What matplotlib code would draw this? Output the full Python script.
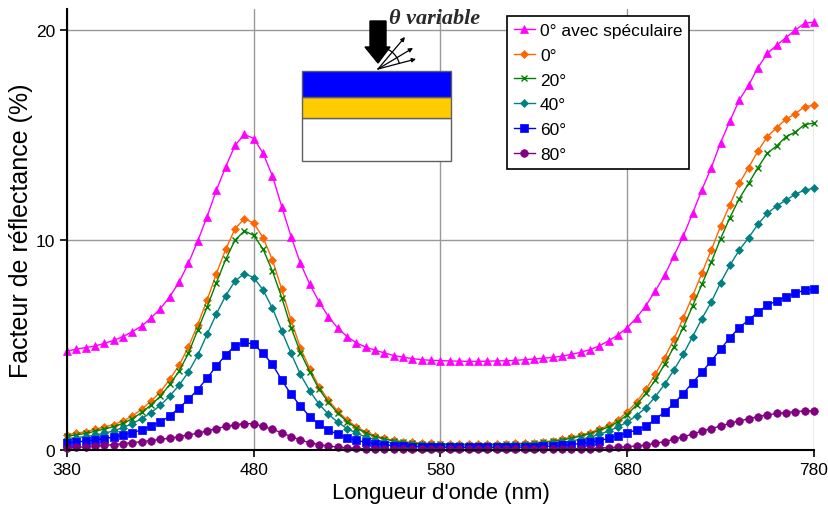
import numpy as np
import matplotlib
matplotlib.use('Agg')
import matplotlib.pyplot as plt
from matplotlib.patches import Rectangle, Polygon, FancyArrowPatch, Arc

plt.rcParams['font.family'] = ['Liberation Sans', 'DejaVu Sans']

# ==========================================
# Data (reflectance in %, every 5 nm)
# ==========================================
wavelength = np.arange(380, 785, 5)

spec_0 = [4.71, 4.80, 4.88, 4.95, 5.08, 5.22, 5.40, 5.64, 5.90, 6.29,
          6.73, 7.30, 7.99, 8.89, 9.95, 11.11, 12.37, 13.49, 14.51, 15.03,
          14.83, 14.13, 13.05, 11.59, 10.16, 8.89, 7.89, 7.05, 6.35, 5.80,
          5.40, 5.10, 4.90, 4.75, 4.62, 4.50, 4.42, 4.35, 4.30, 4.27,
          4.26, 4.24, 4.23, 4.22, 4.22, 4.23, 4.24, 4.25, 4.27, 4.30,
          4.33, 4.37, 4.41, 4.47, 4.55, 4.65, 4.78, 4.96, 5.20, 5.47,
          5.83, 6.30, 6.88, 7.57, 8.32, 9.24, 10.19, 11.27, 12.40, 13.45,
          14.64, 15.67, 16.67, 17.37, 18.21, 18.89, 19.27, 19.64, 20.00, 20.32,
          20.38]

r_0 = [0.72, 0.80, 0.87, 0.98, 1.10, 1.21, 1.38, 1.62, 1.94, 2.33,
       2.76, 3.37, 4.03, 4.90, 5.97, 7.14, 8.40, 9.56, 10.54, 11.02,
       10.80, 10.11, 9.05, 7.65, 6.18, 4.86, 3.87, 3.02, 2.37, 1.85,
       1.42, 1.10, 0.86, 0.68, 0.55, 0.46, 0.40, 0.36, 0.33, 0.31,
       0.30, 0.29, 0.28, 0.28, 0.28, 0.28, 0.29, 0.30, 0.31, 0.33,
       0.35, 0.39, 0.44, 0.52, 0.60, 0.70, 0.83, 0.99, 1.17, 1.43,
       1.82, 2.28, 2.89, 3.60, 4.40, 5.27, 6.30, 7.33, 8.43, 9.52,
       10.67, 11.69, 12.70, 13.45, 14.24, 14.92, 15.35, 15.75, 16.02, 16.35,
       16.41]

r_20 = [0.65, 0.72, 0.79, 0.89, 1.00, 1.11, 1.27, 1.49, 1.79, 2.15,
        2.56, 3.12, 3.75, 4.60, 5.72, 6.80, 7.97, 9.08, 10.00, 10.43,
        10.22, 9.56, 8.52, 7.26, 5.83, 4.64, 3.73, 2.90, 2.27, 1.76,
        1.35, 1.04, 0.81, 0.64, 0.52, 0.43, 0.37, 0.33, 0.30, 0.28,
        0.27, 0.26, 0.26, 0.25, 0.25, 0.25, 0.26, 0.27, 0.28, 0.30,
        0.32, 0.36, 0.41, 0.48, 0.56, 0.66, 0.78, 0.93, 1.10, 1.34,
        1.68, 2.15, 2.70, 3.33, 4.08, 4.92, 5.83, 6.86, 7.89, 8.95,
        10.07, 11.07, 11.97, 12.70, 13.45, 14.13, 14.48, 14.92, 15.14, 15.50,
        15.56]

r_40 = [0.54, 0.59, 0.64, 0.70, 0.80, 0.91, 1.07, 1.26, 1.49, 1.78,
        2.13, 2.57, 3.08, 3.71, 4.51, 5.51, 6.48, 7.35, 8.05, 8.40,
        8.21, 7.62, 6.75, 5.67, 4.60, 3.60, 2.81, 2.18, 1.70, 1.32,
        1.02, 0.80, 0.62, 0.49, 0.40, 0.33, 0.28, 0.25, 0.23, 0.21,
        0.20, 0.19, 0.19, 0.19, 0.19, 0.19, 0.19, 0.20, 0.21, 0.22,
        0.24, 0.27, 0.31, 0.36, 0.43, 0.51, 0.61, 0.74, 0.90, 1.10,
        1.33, 1.64, 2.02, 2.54, 3.13, 3.81, 4.56, 5.40, 6.26, 7.05,
        7.97, 8.80, 9.52, 10.11, 10.75, 11.27, 11.62, 11.90, 12.18, 12.38,
        12.46]

r_60 = [0.35, 0.38, 0.43, 0.48, 0.54, 0.62, 0.72, 0.83, 0.95, 1.14,
        1.33, 1.62, 2.00, 2.41, 2.88, 3.42, 4.00, 4.53, 4.97, 5.12,
        5.04, 4.60, 4.08, 3.33, 2.65, 2.10, 1.59, 1.22, 0.95, 0.74,
        0.58, 0.46, 0.37, 0.30, 0.25, 0.21, 0.18, 0.16, 0.15, 0.14,
        0.13, 0.13, 0.12, 0.12, 0.12, 0.12, 0.12, 0.13, 0.13, 0.14,
        0.15, 0.17, 0.19, 0.22, 0.26, 0.31, 0.37, 0.45, 0.55, 0.67,
        0.81, 0.96, 1.14, 1.46, 1.81, 2.22, 2.69, 3.21, 3.71, 4.24,
        4.80, 5.35, 5.83, 6.19, 6.57, 6.89, 7.10, 7.30, 7.46, 7.62,
        7.65]

r_80 = [0.11, 0.13, 0.15, 0.19, 0.22, 0.26, 0.30, 0.35, 0.40, 0.45,
        0.51, 0.56, 0.64, 0.72, 0.80, 0.91, 1.02, 1.12, 1.20, 1.26,
        1.25, 1.12, 0.99, 0.82, 0.64, 0.47, 0.35, 0.26, 0.19, 0.14,
        0.10, 0.08, 0.06, 0.05, 0.04, 0.04, 0.03, 0.03, 0.03, 0.03,
        0.03, 0.03, 0.03, 0.03, 0.03, 0.03, 0.03, 0.03, 0.03, 0.03,
        0.03, 0.04, 0.04, 0.05, 0.06, 0.07, 0.07, 0.09, 0.11, 0.13,
        0.16, 0.19, 0.24, 0.32, 0.40, 0.51, 0.64, 0.75, 0.91, 1.02,
        1.14, 1.27, 1.38, 1.49, 1.59, 1.67, 1.74, 1.78, 1.83, 1.86,
        1.87]

labels = ['0° avec spéculaire', '0°', '20°', '40°', '60°', '80°']
series = [spec_0, r_0, r_20, r_40, r_60, r_80]
colors = ['#FF00FF', '#FF6600', '#008000', '#008080', '#0000FF', '#800080']
markers = ['^', 'D', 'x', 'D', 's', 'o']
msizes = [6, 4.3, 5, 4.3, 6, 5.5]

W, H = 829, 506

fig = plt.figure(figsize=(W / 100, H / 100), dpi=100)
ax = fig.add_axes([67 / W, 1 - 451 / H, (814 - 67) / W, (451 - 10) / H])

for y, lab, c, m, ms in zip(series, labels, colors, markers, msizes):
    ax.plot(wavelength, y, color=c, marker=m, markersize=ms, linewidth=1.0,
            markeredgewidth=1.0 if m == 'x' else 0.5, label=lab, clip_on=False)

ax.set_xlim(380, 780)
ax.set_ylim(0, 21)
ax.set_xticks([380, 480, 580, 680, 780])
ax.set_yticks([0, 10, 20])
ax.tick_params(axis='both', labelsize=12.5, direction='out', length=5, width=1.2)
ax.grid(True, color='#999999', linewidth=1.0)
ax.set_axisbelow(True)

ax.spines['top'].set_visible(False)
ax.spines['right'].set_visible(False)
ax.spines['left'].set_linewidth(1.5)
ax.spines['bottom'].set_linewidth(1.5)

ax.set_xlabel("Longueur d'onde (nm)", fontsize=16, labelpad=4)
ax.set_ylabel('Facteur de réflectance (%)', fontsize=18, labelpad=2)

leg = ax.legend(loc='upper left', bbox_to_anchor=(507 / W, 1 - 17 / H),
                bbox_transform=fig.transFigure, borderaxespad=0, fontsize=12.5,
                fancybox=False, framealpha=1, edgecolor='black',
                handlelength=1.2, handletextpad=0.3, labelspacing=0.55,
                borderpad=0.4)
leg.get_frame().set_linewidth(1.2)

# ==========================================
# Inset sketch (pixel coordinates overlay)
# ==========================================
ov = fig.add_axes([0, 0, 1, 1])
ov.set_xlim(0, W)
ov.set_ylim(H, 0)
ov.axis('off')

ov.add_patch(Rectangle((302, 119), 149, 43, facecolor='white', edgecolor='#606060', lw=1.0))
ov.add_patch(Rectangle((302, 97.5), 149, 21.5, facecolor='#FFCC00', edgecolor='#606060', lw=1.0))
ov.add_patch(Rectangle((302, 72), 149, 25.5, facecolor='#0000FF', edgecolor='#606060', lw=1.0))

ov.add_patch(Polygon([(370, 22), (386, 22), (386, 48), (390, 48), (378, 64),
                      (365, 48), (370, 48)], closed=True, facecolor='black', edgecolor='black'))

origin = (378, 70)
for end in [(405, 38), (413, 49), (416, 60)]:
    ov.add_patch(FancyArrowPatch(origin, end, arrowstyle='-|>', mutation_scale=6,
                                 color='black', lw=0.9, shrinkA=0, shrinkB=0))
ov.add_patch(Arc(origin, 44, 44, theta1=-75, theta2=-15, color='black', lw=0.9))

ov.text(389, 24, 'θ variable', fontsize=16, family=['Liberation Serif', 'DejaVu Serif'],
        style='italic', weight='bold', color='#2a2a2a', va='baseline', ha='left')

fig.savefig('out.png', dpi=100)
